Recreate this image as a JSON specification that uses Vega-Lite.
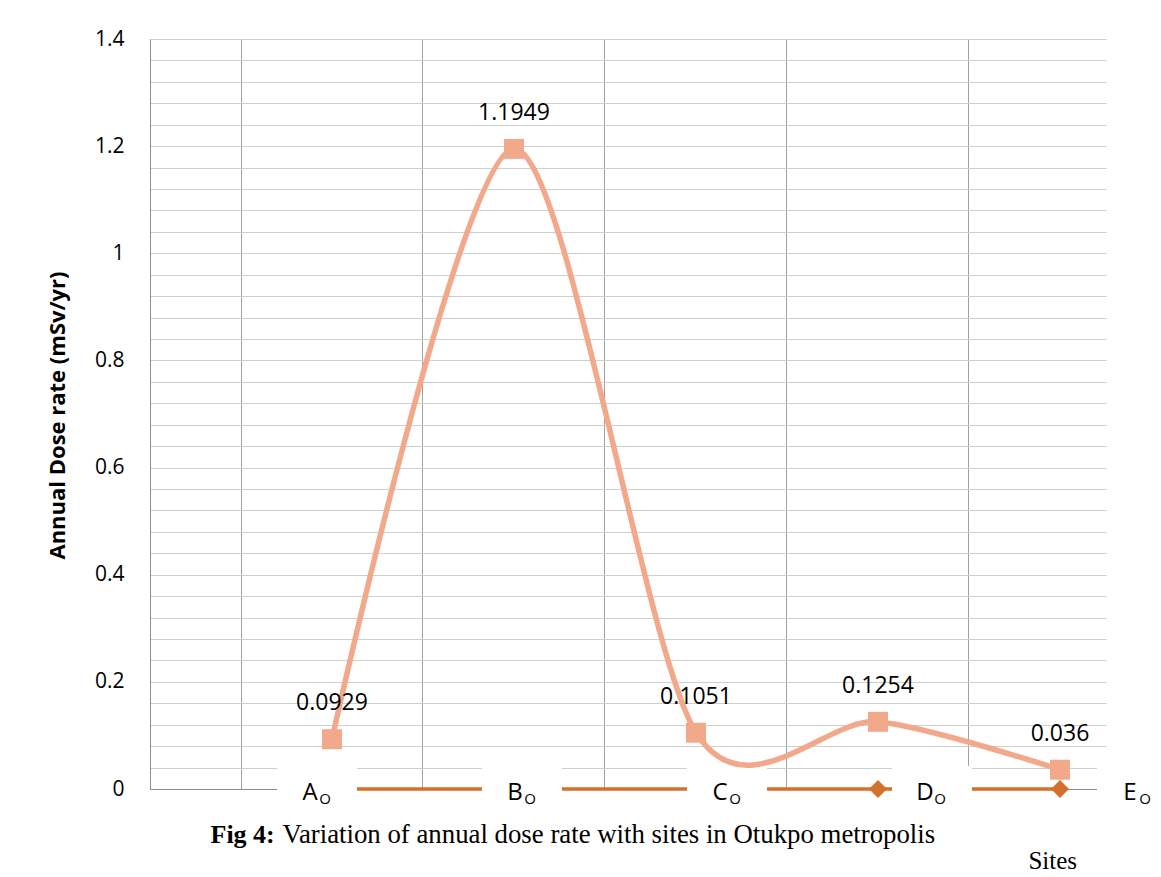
{
  "$schema": "https://vega.github.io/schema/vega-lite/v6.json",
  "width": 956,
  "height": 750,
  "autosize": {"type": "none"},
  "padding": {"left": 150, "top": 39, "right": 55, "bottom": 88},
  "background": "white",
  "config": {"view": {"stroke": null}},
  "data": {
    "values": [
      {"site": "A", "dose": 0.0929, "base": 0},
      {"site": "B", "dose": 1.1949, "base": 0},
      {"site": "C", "dose": 0.1051, "base": 0},
      {"site": "D", "dose": 0.1254, "base": 0},
      {"site": "E", "dose": 0.036, "base": 0}
    ]
  },
  "title": {
    "text": "Sites",
    "orient": "bottom",
    "anchor": "end",
    "frame": "group",
    "font": "Liberation Serif",
    "fontSize": 25,
    "fontWeight": "normal",
    "color": "black",
    "dx": -29,
    "offset": 1
  },
  "resolve": {"scale": {"x": "independent"}, "axis": {"x": "independent"}},
  "layer": [
    {
      "encoding": {
        "x": {
          "field": "site",
          "type": "nominal",
          "bandPosition": 1,
          "scale": {"type": "band", "paddingInner": 0.5, "paddingOuter": 0.3764, "align": 0.6642},
          "axis": {
            "orient": "bottom",
            "title": "Fig 4:",
            "titleFont": "Liberation Serif",
            "titleFontSize": 26,
            "titleFontWeight": "bold",
            "titleColor": "black",
            "titleX": 60,
            "titleY": 53,
            "titleAlign": "left",
            "titleBaseline": "alphabetic",
            "labels": false,
            "ticks": false,
            "domain": true,
            "domainColor": "#8c8c8c",
            "domainWidth": 1,
            "grid": true,
            "gridColor": "#a0a0a0",
            "gridWidth": 1,
            "bandPosition": 0
          }
        }
      },
      "layer": [
        {
          "mark": {"type": "line", "color": "#D4702C", "strokeWidth": 3.5},
          "encoding": {
            "y": {
              "field": "base",
              "type": "quantitative",
              "title": "Annual Dose rate (mSv/yr)",
              "scale": {"domain": [0, 1.4], "nice": false, "zero": true},
              "axis": {
                "values": [0, 0.04, 0.08, 0.12, 0.16, 0.2, 0.24, 0.28, 0.32, 0.36, 0.4, 0.44, 0.48, 0.52, 0.56, 0.6, 0.64, 0.68, 0.72, 0.76, 0.8, 0.84, 0.88, 0.92, 0.96, 1, 1.04, 1.08, 1.12, 1.16, 1.2, 1.24, 1.28, 1.32, 1.36, 1.4],
                "tickCount": 50,
                "labelExpr": "abs(datum.value*5 - round(datum.value*5)) < 0.001 ? format(datum.value, '~g') : ''",
                "labelOverlap": false,
                "labelFont": "Open Sans",
                "labelFontSize": 21,
                "labelColor": "black",
                "labelPadding": 26,
                "ticks": false,
                "domain": true,
                "domainColor": "#8c8c8c",
                "grid": true,
                "gridColor": "#cfcfcf",
                "gridWidth": 1,
                "title": "Annual Dose rate (mSv/yr)",
                "titleFont": "Open Sans",
                "titleFontSize": 22,
                "titleFontWeight": "bold",
                "titleColor": "black",
                "titleAngle": -90,
                "titleX": -93,
                "titleY": 376,
                "titleAlign": "center",
                "titleBaseline": "middle"
              }
            }
          }
        },
        {
          "mark": {"type": "point", "shape": "diamond", "filled": true, "size": 324, "color": "#D4702C", "opacity": 1},
          "encoding": {
            "y": {"field": "base", "type": "quantitative", "title": "Annual Dose rate (mSv/yr)"}
          }
        }
      ]
    },
    {
      "encoding": {
        "x": {
          "field": "site",
          "type": "nominal",
          "scale": {"type": "point", "range": [166, 986], "padding": 0},
          "axis": {
            "orient": "bottom",
            "title": "Variation of annual dose rate with sites in Otukpo metropolis",
            "titleFont": "Liberation Serif",
            "titleFontSize": 26.8,
            "titleFontWeight": "normal",
            "titleColor": "black",
            "titleX": 132,
            "titleY": 53,
            "titleAlign": "left",
            "titleBaseline": "alphabetic",
            "labels": false,
            "ticks": false,
            "domain": false,
            "grid": false
          }
        }
      },
      "layer": [
        {
          "mark": {"type": "point", "shape": "M-1.74,-1H1.74V1H-1.74Z", "size": 2116, "filled": true, "color": "white", "opacity": 1, "strokeWidth": 0, "xOffset": 1},
          "encoding": {"y": {"datum": 0, "type": "quantitative", "title": "Annual Dose rate (mSv/yr)"}}
        },
        {
          "mark": {"type": "text", "font": "Open Sans", "fontSize": 24, "color": "black", "align": "center", "baseline": "alphabetic", "dx": -6, "dy": 11},
          "encoding": {
            "y": {"datum": 0, "type": "quantitative", "title": "Annual Dose rate (mSv/yr)"},
            "text": {"field": "site"}
          }
        },
        {
          "mark": {"type": "text", "font": "Open Sans", "fontSize": 15, "color": "black", "align": "center", "baseline": "alphabetic", "dx": 9, "dy": 15, "text": "O"},
          "encoding": {
            "y": {"datum": 0, "type": "quantitative", "title": "Annual Dose rate (mSv/yr)"}
          }
        }
      ]
    },
    {
      "encoding": {
        "x": {
          "field": "site",
          "type": "nominal",
          "bandPosition": 1,
          "scale": {"type": "band", "paddingInner": 0.5, "paddingOuter": 0.3764, "align": 0.6642},
          "axis": null
        }
      },
      "layer": [
        {
          "mark": {"type": "line", "interpolate": "cardinal", "tension": 0.15, "color": "#F2A88A", "strokeWidth": 5.5},
          "encoding": {"y": {"field": "dose", "type": "quantitative", "title": "Annual Dose rate (mSv/yr)"}}
        },
        {
          "mark": {"type": "point", "shape": "square", "filled": true, "size": 400, "color": "#F2A88A", "opacity": 1},
          "encoding": {"y": {"field": "dose", "type": "quantitative", "title": "Annual Dose rate (mSv/yr)"}}
        },
        {
          "mark": {"type": "text", "font": "Open Sans", "fontSize": 23, "color": "black", "align": "center", "baseline": "middle", "dy": -36},
          "encoding": {
            "y": {"field": "dose", "type": "quantitative", "title": "Annual Dose rate (mSv/yr)"},
            "text": {"field": "dose", "type": "quantitative", "format": "~g"}
          }
        }
      ]
    }
  ]
}
